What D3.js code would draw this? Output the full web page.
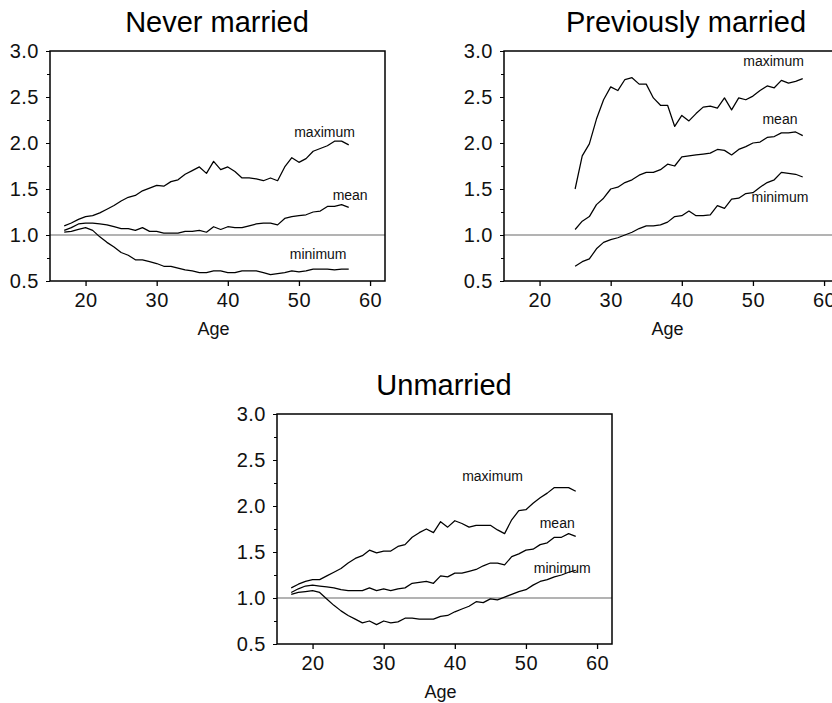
<!DOCTYPE html>
<html>
<head>
<meta charset="utf-8">
<script src="https://cdn.jsdelivr.net/npm/d3@7"></script>
<style>
  body { margin: 0; background: #fff; }
  svg { display: block; font-family: "Liberation Sans", Arial, Helvetica, sans-serif; }
</style>
</head>
<body>
<svg id="chart" width="832" height="703"></svg>
<script>
// ages (x categories)
const agesAll = [17,18,19,20,21,22,23,24,25,26,27,28,29,30,31,32,33,34,35,36,37,
  38,39,40,41,42,43,44,45,46,47,48,49,50,51,52,53,54,55,56,57]
const agesPrev = [25,26,27,28,29,30,31,32,33,34,35,36,37,38,39,40,41,42,43,44,45,
  46,47,48,49,50,51,52,53,54,55,56,57]

// Never married
const neverMax = [1.10,1.13,1.17,1.20,1.21,1.24,1.28,1.32,1.37,1.41,1.43,1.48,1.51,1.54,1.53,
  1.58,1.60,1.66,1.70,1.74,1.67,1.80,1.71,1.74,1.69,1.62,1.62,1.61,1.59,1.62,1.59,1.74,1.84,
  1.79,1.83,1.91,1.94,1.97,2.02,2.02,1.98]
const neverMean = [1.05,1.08,1.12,1.13,1.13,1.12,1.11,1.09,1.07,1.07,1.05,1.08,1.04,1.04,1.02,
  1.02,1.02,1.04,1.04,1.05,1.03,1.09,1.06,1.09,1.08,1.08,1.10,1.12,1.13,1.13,1.11,1.18,1.20,
  1.21,1.22,1.25,1.26,1.31,1.31,1.33,1.30]
const neverMin = [1.03,1.04,1.06,1.08,1.05,0.98,0.92,0.87,0.81,0.78,0.73,0.73,0.71,0.69,0.66,
  0.66,0.64,0.62,0.61,0.59,0.59,0.61,0.61,0.59,0.59,0.61,0.61,0.61,0.59,0.57,0.58,0.59,0.61,
  0.60,0.61,0.63,0.63,0.63,0.62,0.63,0.63]

// Previously married
const prevMax = [1.50,1.86,1.99,2.26,2.47,2.61,2.57,2.69,2.71,2.64,2.64,2.49,2.41,2.41,2.18,
  2.30,2.24,2.32,2.39,2.40,2.38,2.49,2.36,2.49,2.47,2.51,2.57,2.62,2.60,2.68,2.65,2.67,2.70]
const prevMean = [1.06,1.15,1.20,1.33,1.40,1.50,1.52,1.57,1.60,1.65,1.68,1.68,1.71,1.77,1.75,
  1.85,1.86,1.87,1.88,1.89,1.93,1.92,1.87,1.93,1.96,2.00,2.01,2.06,2.07,2.11,2.11,2.12,2.08]
const prevMin = [0.66,0.71,0.74,0.85,0.92,0.95,0.97,1.00,1.03,1.07,1.10,1.10,1.11,1.14,1.20,
  1.21,1.26,1.21,1.21,1.22,1.32,1.29,1.39,1.40,1.45,1.46,1.52,1.57,1.60,1.68,1.67,1.66,1.63]

// Unmarried
const unMax = [1.11,1.15,1.18,1.20,1.20,1.24,1.28,1.32,1.38,1.43,1.46,1.52,1.49,1.51,1.51,
  1.56,1.58,1.66,1.71,1.75,1.71,1.83,1.77,1.84,1.81,1.77,1.79,1.79,1.79,1.74,1.70,1.85,1.95,
  1.96,2.03,2.09,2.14,2.20,2.20,2.20,2.16]
const unMean = [1.06,1.10,1.13,1.14,1.13,1.12,1.11,1.09,1.08,1.08,1.08,1.11,1.08,1.10,1.08,
  1.10,1.11,1.16,1.17,1.18,1.16,1.24,1.23,1.27,1.27,1.29,1.31,1.35,1.38,1.38,1.36,1.45,1.48,
  1.52,1.53,1.58,1.60,1.66,1.66,1.70,1.67]
const unMin = [1.04,1.06,1.07,1.08,1.06,0.99,0.92,0.86,0.81,0.77,0.73,0.75,0.71,0.75,0.73,
  0.74,0.78,0.78,0.77,0.77,0.77,0.80,0.81,0.85,0.88,0.91,0.96,0.95,0.99,0.98,1.01,1.04,1.07,
  1.09,1.14,1.18,1.20,1.23,1.25,1.28,1.30]

const yTicks = [0.5, 1.0, 1.5, 2.0, 2.5, 3.0]
const xTicks = [20, 30, 40, 50, 60]
const seriesNames = ['maximum', 'mean', 'minimum']

// panel box size
const pw = 335
const ph = 230

const svg = d3.select('#chart')

/**
 * draw one panel
 */
function drawPanel(opt) {
  const g = svg.append('g')
    .attr('transform', `translate(${opt.left},${opt.top})`)

  const x = d3.scaleLinear().domain([15, 62.1]).range([0, pw])
  const y = d3.scaleLinear().domain([0.5, 3.0]).range([ph, 0])

  // title
  g.append('text')
    .attr('x', opt.titleX)
    .attr('y', -19)
    .attr('text-anchor', 'middle')
    .attr('font-size', 29)
    .attr('fill', '#000')
    .text(opt.title)

  // reference line at 1
  g.append('line')
    .attr('x1', 0).attr('x2', pw)
    .attr('y1', y(1)).attr('y2', y(1))
    .attr('stroke', '#9a9a9a')
    .attr('stroke-width', 1.6)

  // minor ticks on y
  g.append('g')
    .call(d3.axisLeft(y).tickValues([0.75, 1.25, 1.75, 2.25, 2.75]).tickSize(3).tickFormat(''))
    .call(a => a.select('.domain').remove())
    .selectAll('line').attr('stroke-width', 1)

  const yAx = g.append('g')
    .attr('class', 'y-axis')
    .call(d3.axisLeft(y).tickValues(yTicks).tickSize(4).tickPadding(7).tickFormat(d3.format('.1f')))
  yAx.select('.domain').remove()
  yAx.selectAll('text').attr('font-size', 20).attr('font-family', null).attr('fill', '#111')
    .attr('letter-spacing', 0.5)

  const xAx = g.append('g')
    .attr('transform', `translate(0,${ph})`)
    .call(d3.axisBottom(x).tickValues(xTicks).tickSize(5).tickPadding(7))
  xAx.select('.domain').remove()
  xAx.selectAll('text').attr('font-size', 20).attr('font-family', null).attr('fill', '#111')
    .attr('letter-spacing', 0.5)
  xAx.selectAll('line').attr('stroke-width', 1.3)

  g.append('text')
    .attr('x', pw / 2 - 4)
    .attr('y', ph + 54)
    .attr('text-anchor', 'middle')
    .attr('font-size', 18)
    .attr('fill', '#111')
    .text('Age')

  // the series
  const line = d3.line()
    .x(d => x(d[0]))
    .y(d => y(d[1]))

  opt.series.forEach(function (vals) {
    g.append('path')
      .datum(opt.ages.map((a, i) => [a, vals[i]]))
      .attr('fill', 'none')
      .attr('stroke', '#000')
      .attr('stroke-width', 1.25)
      .attr('stroke-linejoin', 'round')
      .attr('d', line)
  })

  // labels near the curves
  opt.labels.forEach(function (l, i) {
    g.append('text')
      .attr('x', x(l[0]))
      .attr('y', y(l[1]))
      .attr('text-anchor', 'middle')
      .attr('font-size', 14)
      .attr('fill', '#111')
      .text(seriesNames[i])
  })

  // box
  g.append('rect')
    .attr('width', pw)
    .attr('height', ph)
    .attr('fill', 'none')
    .attr('stroke', '#000')
    .attr('stroke-width', 1.5)
}

drawPanel({
  title: 'Never married', left: 50, top: 51, titleX: 167,
  ages: agesAll, series: [neverMax, neverMean, neverMin],
  labels: [[53.6, 2.07], [57.2, 1.38], [52.7, 0.74]]
})

drawPanel({
  title: 'Previously married', left: 504, top: 51, titleX: 182,
  ages: agesPrev, series: [prevMax, prevMean, prevMin],
  labels: [[52.9, 2.84], [53.8, 2.21], [53.8, 1.36]]
})

drawPanel({
  title: 'Unmarried', left: 277, top: 414, titleX: 167,
  ages: agesAll, series: [unMax, unMean, unMin],
  labels: [[45.3, 2.27], [54.4, 1.76], [55.1, 1.27]]
})
</script>
</body>
</html>
